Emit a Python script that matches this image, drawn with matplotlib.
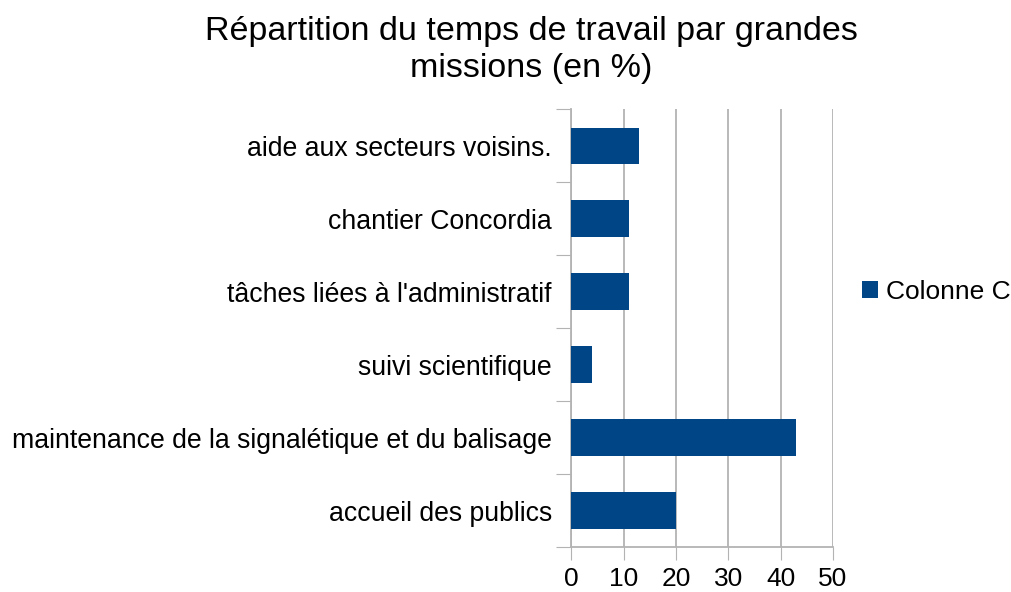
import matplotlib.pyplot as plt
import numpy as np

# data (bottom to top as drawn)
categories = ["accueil des publics",
              "maintenance de la signalétique et du balisage",
              "suivi scientifique",
              "tâches liées à l'administratif",
              "chantier Concordia",
              "aide aux secteurs voisins."]
values = [20, 43, 4, 11, 11, 13]
series_name = "Colonne C"

plt.rcParams['font.family'] = ['Liberation Sans', 'DejaVu Sans']

fig = plt.figure(figsize=(10.12, 5.92), dpi=100)
ax = fig.add_axes([571.3 / 1012, 1 - 547 / 592, 261.7 / 1012, 437.7 / 592])

pos = np.arange(len(categories))
ax.barh(pos, values, height=0.5, color="#004586", label=series_name, zorder=3)

ax.set_xlim(0, 50)
ax.set_ylim(-0.5, len(categories) - 0.5)
ax.set_xticks(np.arange(0, 51, 10))
ax.tick_params(axis='x', labelsize=19, length=9, color="#b3b3b3", pad=5.5)

# category labels centred on bars, ticks at boundaries
ax.set_yticks(np.arange(-0.5, len(categories), 1.0))
ax.set_yticklabels([])
ax.set_yticks(pos, minor=True)
ax.set_yticklabels(categories, minor=True, fontsize=19.2)
ax.tick_params(axis='y', which='major', length=11, color="#b3b3b3")
ax.tick_params(axis='y', which='minor', length=0, pad=14)

ax.grid(axis='x', color="#b3b3b3", linewidth=1.3, zorder=0)
for s in ['top', 'right']:
    ax.spines[s].set_visible(False)
for s in ['left', 'bottom']:
    ax.spines[s].set_color("#b3b3b3")
    ax.spines[s].set_linewidth(1.3)

fig.text(531 / 1012, 1 - 50 / 592, "Répartition du temps de travail par grandes\nmissions (en %)",
         ha='center', va='center', fontsize=24.5, linespacing=1.25)

ax.legend(loc='center left', bbox_to_anchor=(862 / 1012, 1 - 292 / 592),
          bbox_transform=fig.transFigure, frameon=False, fontsize=19,
          handlelength=0.6, handleheight=0.6, handletextpad=0.3,
          borderpad=0, borderaxespad=0)

fig.savefig("out.png", dpi=100)
